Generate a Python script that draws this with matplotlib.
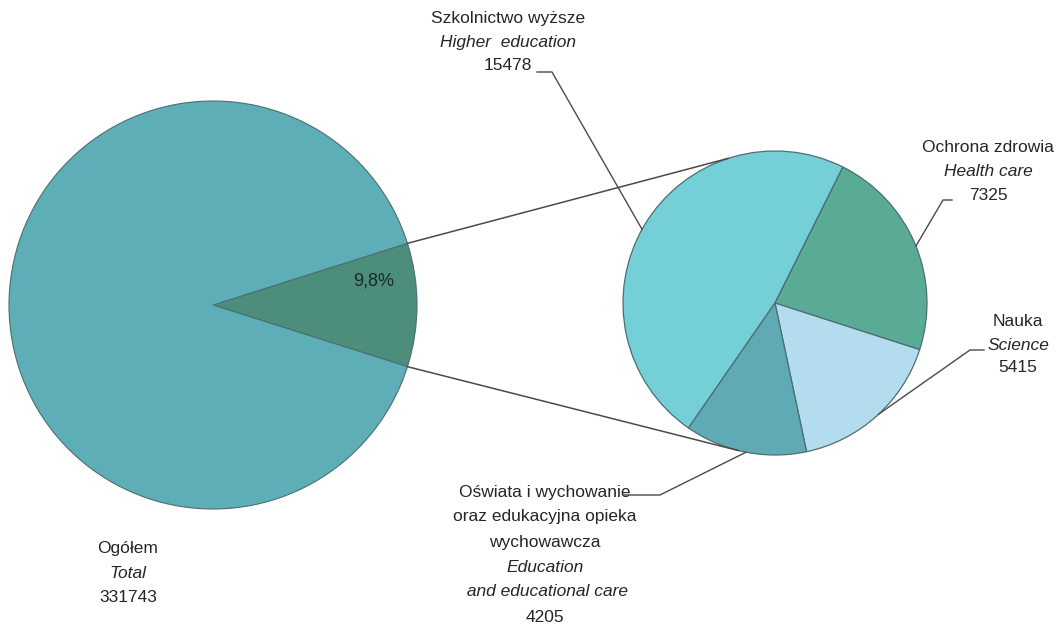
import matplotlib
matplotlib.use("Agg")
import numpy as np
import matplotlib.pyplot as plt

# data
total_label = ["Ogółem", "Total"]
total_value = 331743
sectors_pl = ["Szkolnictwo wyższe", "Ochrona zdrowia", "Nauka",
              "Oświata i wychowanie\noraz edukacyjna opieka\nwychowawcza"]
sectors_en = ["Higher  education", "Health care", "Science",
              "Education\n and educational care"]
sector_values = [15478, 7325, 5415, 4205]
share_label = "9,8%"

# styling
big_col = "#5eaeb8"
part_col = "#4c8d7b"
small_cols = ["#74cfd7", "#5aab95", "#b3dcee", "#5eabb5"]
edge = "#4d6e72"
txt = "#262626"
fam = ["Liberation Sans Narrow", "Liberation Sans", "DejaVu Sans"]
fs = 12.5

H = 632
fig = plt.figure(figsize=(10.56, 6.32), dpi=100)
ax = fig.add_axes([0, 0, 1, 1])

# big pie
bc = (213, H - 305)
br = 204
part = sum(sector_values)
frac = part / total_value
half = frac * 180
ax.pie([part, total_value - part], colors=[part_col, big_col], center=bc,
       radius=br, startangle=-half, counterclock=True,
       wedgeprops=dict(edgecolor=edge, linewidth=0.8), frame=True)

# small pie (clockwise from higher education)
sc = (775, H - 303)
sr = 152
ax.pie(sector_values, colors=small_cols, center=sc, radius=sr,
       startangle=235.3, counterclock=False,
       wedgeprops=dict(edgecolor=edge, linewidth=0.9), frame=True)
ax.set_xlim(0, 1056)
ax.set_ylim(0, H)
ax.set_aspect("equal")
ax.axis("off")


def on_circle(c, r, deg):
    a = np.deg2rad(deg)
    return c[0] + r * np.cos(a), c[1] + r * np.sin(a)


# connectors from the wedge to the small pie
for a_big, a_small in [(half, 108), (-half, -104)]:
    x0, y0 = on_circle(bc, br, a_big)
    x1, y1 = on_circle(sc, sr, a_small)
    ax.plot([x0, x1], [y0, y1], color="#4a4a4a", lw=1.1, zorder=5)

ax.text(374, H - 281, share_label, ha="center", va="center", fontsize=fs + 0.5,
        family=fam, color="#1a2a28")


# label texts, one line after another
def label(x, y, pl, en, val, step=24.5):
    lines = [(l, "normal") for l in pl.split("\n")]
    lines += [(l, "italic") for l in en.split("\n")]
    lines.append((str(val), "normal"))
    for i, (s, st) in enumerate(lines):
        ax.text(x, H - (y + i * step), s, ha="center", va="center",
                fontsize=fs, family=fam, style=st, color=txt)


label(508, 19, sectors_pl[0], sectors_en[0], sector_values[0], step=23.5)
label(988, 147, sectors_pl[1], sectors_en[1], sector_values[1], step=24.5)
label(1018, 322, sectors_pl[2], sectors_en[2], sector_values[2], step=23)
label(545, 492, sectors_pl[3], sectors_en[3], sector_values[3], step=25)
label(128, 548, total_label[0], total_label[1], total_value, step=25)

# leader lines: short dash by the text, then on to the small pie
leaders = [((537, 72), (552, 72), 151),
           ((952, 200), (943, 200), 22),
           ((984, 350), (970, 350), -47),
           ((624, 495), (660, 495), -101)]
for p0, p1, ang in leaders:
    x2, y2 = on_circle(sc, sr, ang)
    ax.plot([p0[0], p1[0], x2], [H - p0[1], H - p1[1], y2],
            color="#4a4a4a", lw=1.0, zorder=5)

fig.savefig("out.png", dpi=100, facecolor="white")
